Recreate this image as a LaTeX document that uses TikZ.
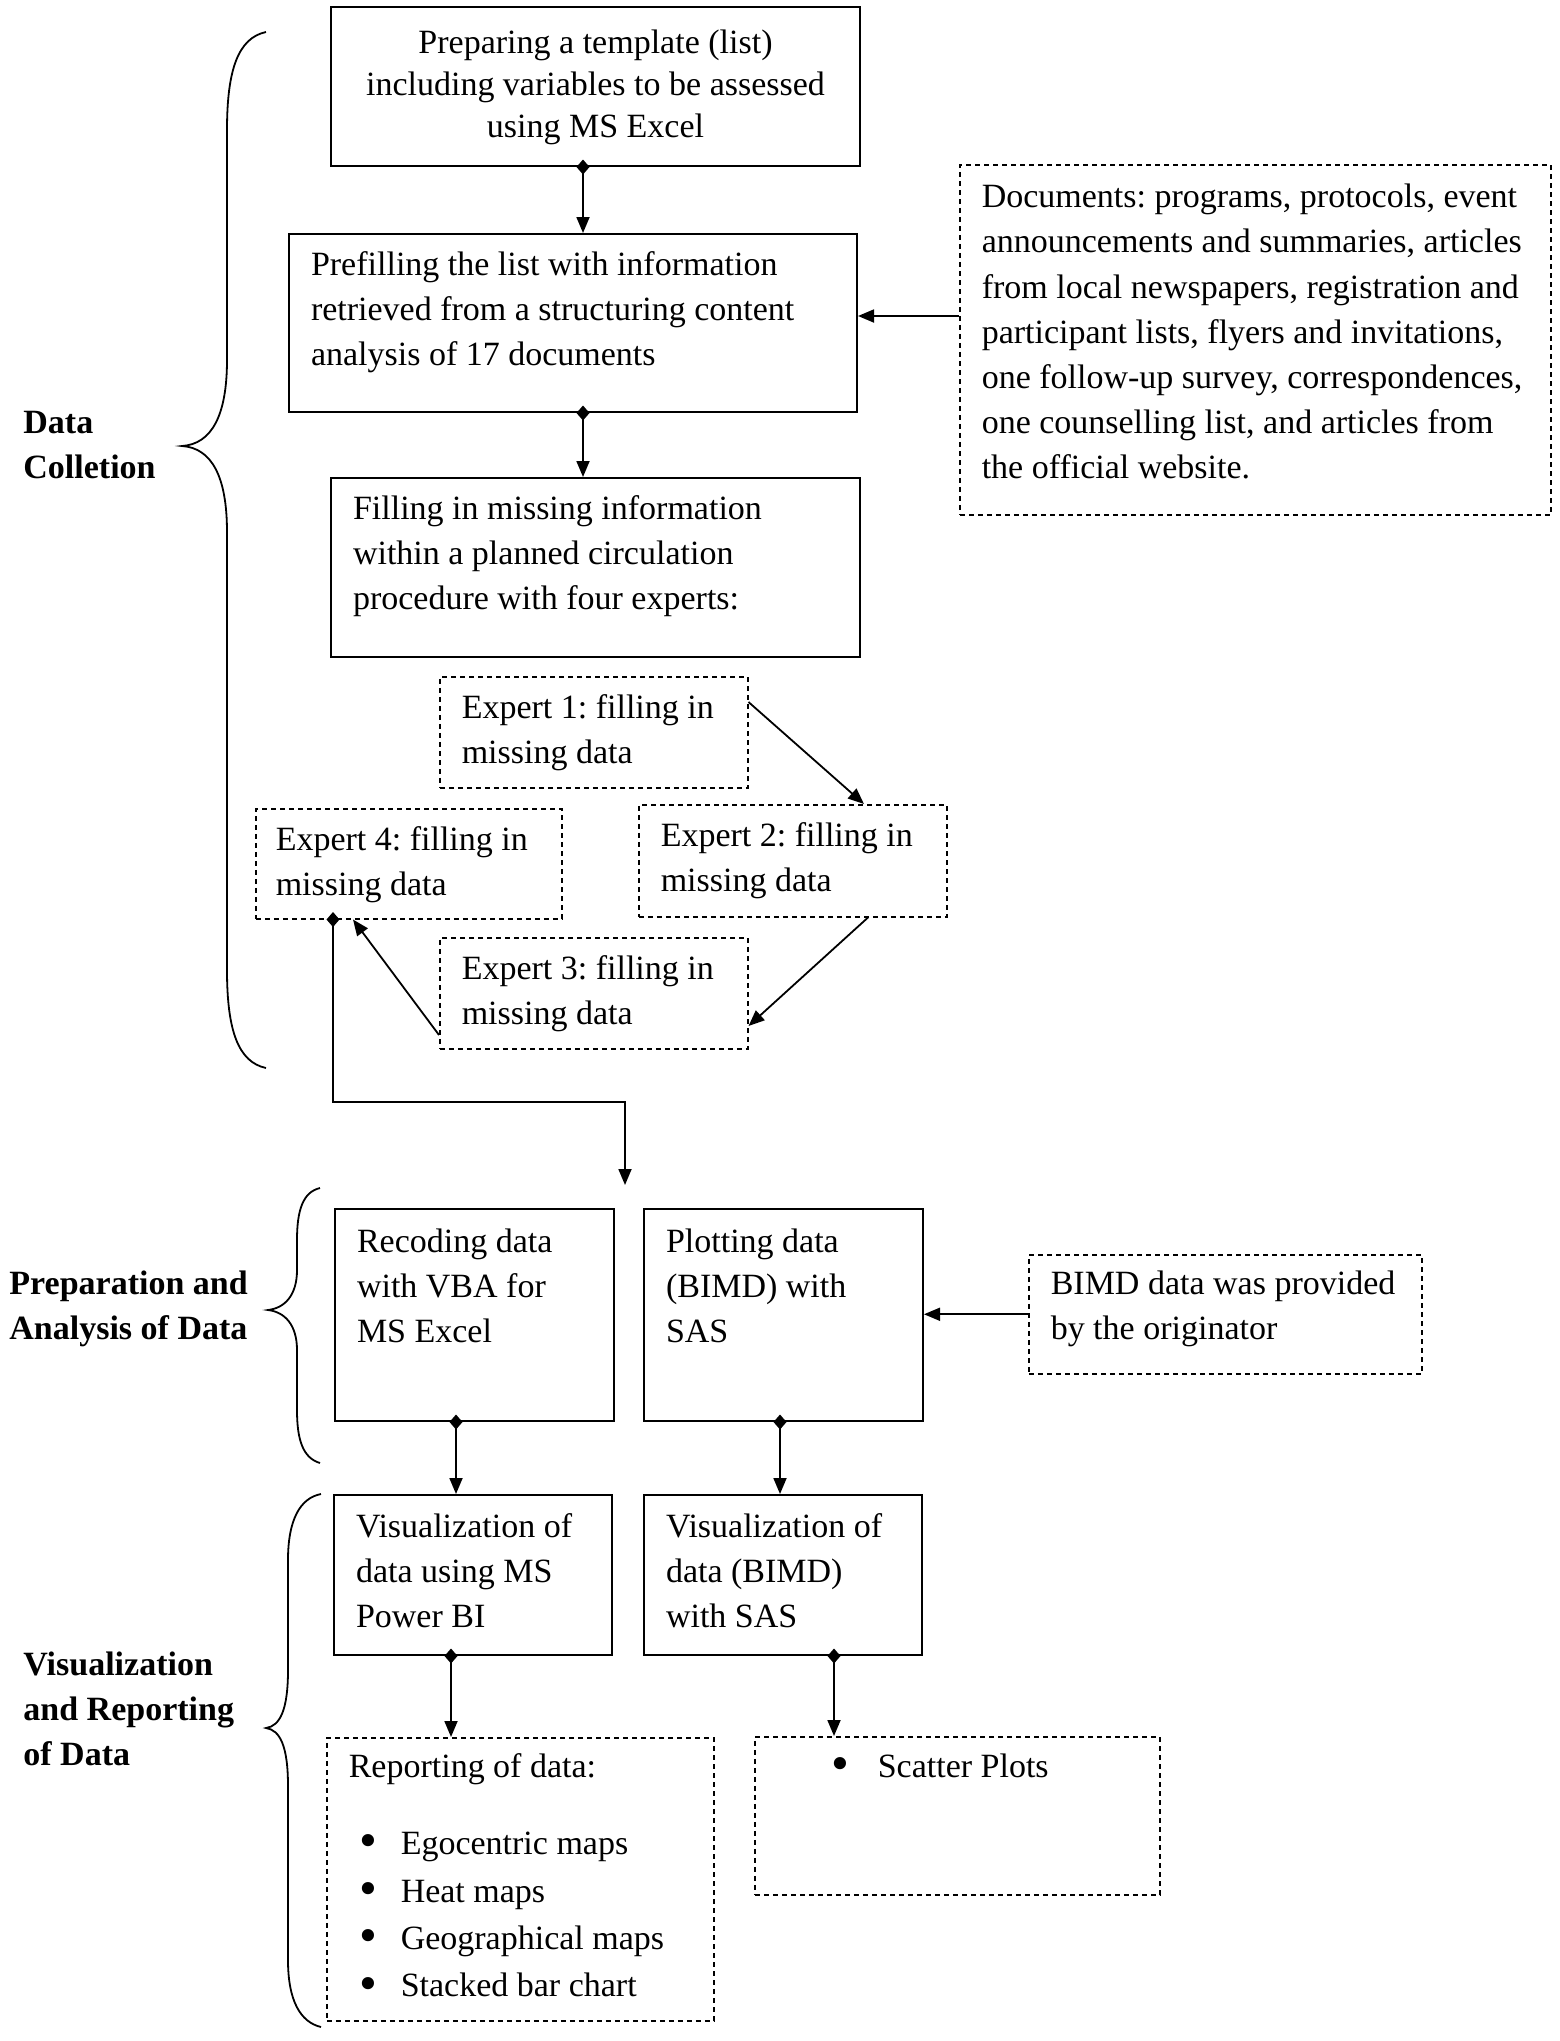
\documentclass[tikz,border=0pt]{standalone}
\usepackage{fontspec}
\setmainfont{Liberation Serif}
\usetikzlibrary{arrows.meta,calc}
\frenchspacing
\newcommand\bxt[5]{\parbox[t][\dimexpr#2pt/2\relax][t]{\dimexpr#1pt/2\relax}{\leftskip=\dimexpr#3pt/2\relax\rightskip=-30pt plus 1fil\parfillskip=0pt plus 1fil\rule{0pt}{\dimexpr#4pt/2\relax}#5}}
\newcommand\bigbul{\raisebox{-1.6pt}{\scalebox{1.5}{\textbullet}}}
\newcommand\bul{\hspace*{5.5pt}\makebox[20.5pt][l]{\bigbul}}
\tikzset{
  sbox/.style={draw, line width=1pt, inner sep=0pt, anchor=north west},
  dbox/.style={sbox, dash pattern=on 2.5pt off 2pt, line width=0.75pt},
  lab/.style={inner sep=0pt, anchor=base west, font=\fontsize{17pt}{22.6pt}\selectfont\bfseries},
  flow/.style={line width=0.9pt, -{Triangle[length=8pt,width=6.5pt]}},
  dflow/.style={line width=0.9pt, {Diamond[length=7.5pt,width=6.5pt]}-{Triangle[length=8pt,width=6.5pt]}},
  brace/.style={line width=0.9pt}
}
\begin{document}
\begin{tikzpicture}[x=0.5pt,y=-0.5pt,font=\fontsize{17pt}{22.6pt}\selectfont]
\useasboundingbox (0,0) rectangle (1559,2041);
% boxes
\node[sbox] (b1) at (330,6) {\bxt{529}{159}{0}{46}{\centering\fontsize{17pt}{21pt}\selectfont Preparing a template (list)\\including variables to be assessed\\using MS Excel}};
\node[sbox] (b2) at (288,233) {\bxt{568}{178}{22}{41}{Prefilling the list with information\\retrieved from a structuring content\\analysis of 17 documents}};
\node[dbox] (docs) at (959,164) {\bxt{591}{350}{22}{43}{Documents: programs, protocols, event\\announcements and summaries, articles\\from local newspapers, registration and\\participant lists, flyers and invitations,\\one follow-up survey, correspondences,\\one counselling list, and articles from\\the official website.}};
\node[sbox] (b3) at (330,477) {\bxt{529}{179}{22}{41}{Filling in missing information\\within a planned circulation\\procedure with four experts:}};
\node[dbox] (e1) at (439,676) {\bxt{308}{111}{22}{42}{Expert 1: filling in\\missing data}};
\node[dbox] (e2) at (638,804) {\bxt{308}{112}{22}{42}{Expert 2: filling in\\missing data}};
\node[dbox] (e4) at (255,808) {\bxt{306}{110}{20}{42}{Expert 4: filling in\\missing data}};
\node[dbox] (e3) at (439,937) {\bxt{308}{111}{22}{42}{Expert 3: filling in\\missing data}};
\node[sbox] (rec) at (334,1208) {\bxt{279}{212}{22}{43}{Recoding data\\with VBA for\\MS Excel}};
\node[sbox] (plot) at (643,1208) {\bxt{279}{212}{22}{43}{Plotting data\\(BIMD) with\\SAS}};
\node[dbox] (bimd) at (1028,1254) {\bxt{393}{119}{22}{40}{BIMD data was provided\\by the originator}};
\node[sbox] (vis1) at (333,1494) {\bxt{278}{160}{22}{42}{Visualization of\\data using MS\\Power BI}};
\node[sbox] (vis2) at (643,1494) {\bxt{278}{160}{22}{42}{Visualization of\\data (BIMD)\\with SAS}};
\node[dbox] (rep) at (326,1737) {\bxt{387}{283}{22}{40}{Reporting of data:\\[15.9pt]\bul Egocentric maps\\[1.1pt]\bul Heat maps\\[1.1pt]\bul Geographical maps\\[1.1pt]\bul Stacked bar chart}};
\node[dbox] (sc) at (754,1736) {\bxt{405}{158}{77}{41}{\makebox[23pt][l]{\bigbul}Scatter Plots}};
% labels
\node[lab] (lDC) at (23,433) {\parbox[t]{120pt}{Data\\Colletion}};
\node[lab] (lPA) at (9,1294) {\parbox[t]{120pt}{Preparation and\\Analysis of Data}};
\node[lab] (lVR) at (23,1675) {\parbox[t]{120pt}{Visualization\\and Reporting\\of Data}};
% braces
\draw[brace] (266,32) .. controls (238,38) and (227,70) .. (227,130) -- (227,360) .. controls (227,415) and (212,444) .. (182,446) .. controls (212,448) and (227,477) .. (227,532) -- (227,970) .. controls (227,1030) and (238,1062) .. (266,1068);
\draw[brace] (320,1188) .. controls (303,1192) and (297,1210) .. (297,1240) -- (297,1270) .. controls (297,1295) and (285,1308) .. (268,1310) .. controls (285,1312) and (297,1325) .. (297,1350) -- (297,1410) .. controls (297,1440) and (303,1458) .. (320,1463);
\draw[brace] (321,1494) .. controls (300,1498) and (288,1520) .. (288,1560) -- (288,1670) .. controls (288,1710) and (280,1726) .. (266,1728) .. controls (280,1730) and (288,1746) .. (288,1786) -- (288,1960) .. controls (288,2000) and (300,2022) .. (321,2027);
% connectors
\coordinate (ax) at (583,0);
\coordinate (dy) at (0,316);
\coordinate (c4) at (333,1102);
\coordinate (jn) at (625,1185);
\coordinate (rx) at (456,0);
\coordinate (px) at (780,0);
\coordinate (v1x) at (451,0);
\coordinate (v2x) at (834,0);
\draw[dflow] ($(b1.south -| ax)+(0,-7.5)$) -- (b2.north -| ax);
\draw[dflow] ($(b2.south -| ax)+(0,-7.5)$) -- (b3.north -| ax);
\draw[flow] (docs.west |- dy) -- (b2.east |- dy);
\draw[flow] ($(e1.north east)+(0,26)$) -- ($(e2.north west)+(226,0)$);
\draw[flow] ($(e2.south west)+(230,0)$) -- ($(e3.north east)+(0,89)$);
\draw[flow] ($(e3.north west)+(0,98)$) -- ($(e4.south west)+(98,0)$);
\draw[dflow] ($(e4.south -| c4)+(0,-7.5)$) -- (c4) -| (jn);
\draw[flow] (bimd.west) -- (plot.east |- bimd.west);
\draw[dflow] ($(rec.south -| rx)+(0,-7.5)$) -- (vis1.north -| rx);
\draw[dflow] ($(plot.south -| px)+(0,-7.5)$) -- (vis2.north -| px);
\draw[dflow] ($(vis1.south -| v1x)+(0,-7.5)$) -- (rep.north -| v1x);
\draw[dflow] ($(vis2.south -| v2x)+(0,-7.5)$) -- (sc.north -| v2x);
\end{tikzpicture}
\end{document}
